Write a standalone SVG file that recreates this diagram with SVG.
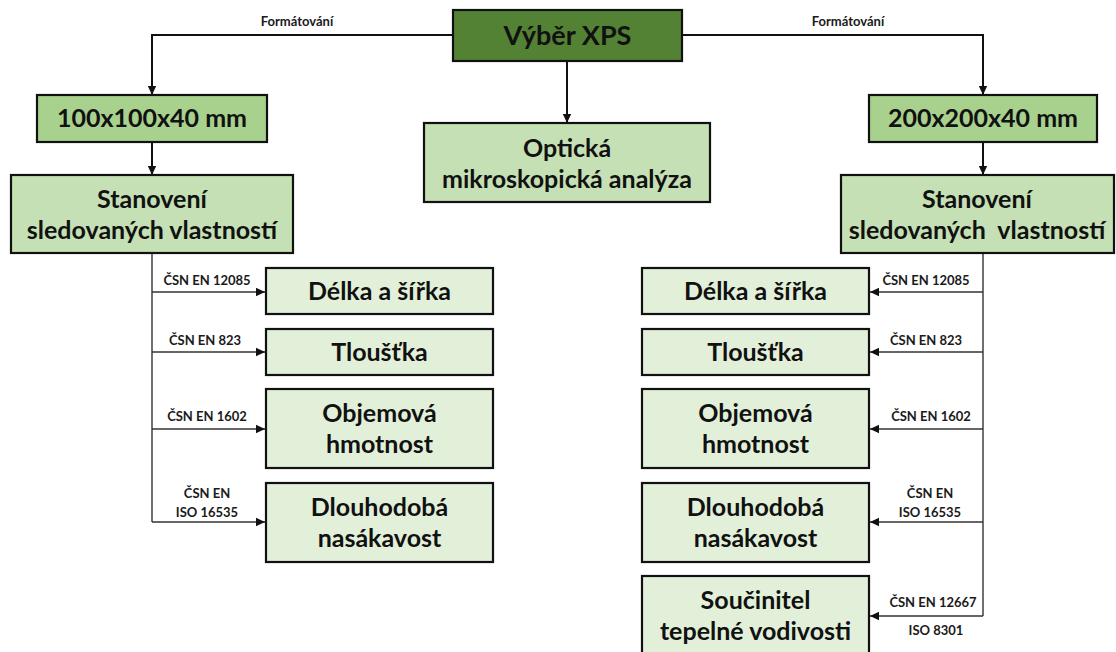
<svg xmlns="http://www.w3.org/2000/svg" width="1116" height="652" viewBox="0 0 1116 652">
<defs>
<style>
.box{stroke:#111;stroke-width:2.2}
.d{fill:#548235}
.m{fill:#A9D18E}
.l{fill:#C5E0B4}
.x{fill:#E2F0D9}
.t{font-family:Lato,"Liberation Sans",sans-serif;font-weight:bold;font-size:25px;fill:#111;text-anchor:middle}
.big{font-size:27px}
.s{font-family:Lato,"Liberation Sans",sans-serif;font-weight:bold;font-size:13px;fill:#1a1a1a;text-anchor:middle}
.c1{fill:none;stroke:#111;stroke-width:2}
.c2{fill:none;stroke:#333;stroke-width:1.4}
</style>
<marker id="ah" markerWidth="10" markerHeight="10" refX="9" refY="5" orient="auto" markerUnits="userSpaceOnUse">
<path d="M0,0.8 L9,5 L0,9.2 Z" fill="#111"/>
</marker>
</defs>

<g id="connectors">
<path class="c1" d="M453,35 H152 V95" marker-end="url(#ah)"/>
<path class="c1" d="M682,35 H983 V95" marker-end="url(#ah)"/>
<path class="c1" d="M567,61 V123" marker-end="url(#ah)"/>
<path class="c1" d="M152,142 V175" marker-end="url(#ah)"/>
<path class="c1" d="M983,142 V175" marker-end="url(#ah)"/>
<path class="c2" d="M152,253 V522"/>
<path class="c2" d="M152,292 H265" marker-end="url(#ah)"/>
<path class="c2" d="M152,352 H265" marker-end="url(#ah)"/>
<path class="c2" d="M152,429 H265" marker-end="url(#ah)"/>
<path class="c2" d="M152,522 H265" marker-end="url(#ah)"/>
<path class="c2" d="M983,253 V616"/>
<path class="c2" d="M983,292 H870" marker-end="url(#ah)"/>
<path class="c2" d="M983,352 H870" marker-end="url(#ah)"/>
<path class="c2" d="M983,429 H870" marker-end="url(#ah)"/>
<path class="c2" d="M983,522 H870" marker-end="url(#ah)"/>
<path class="c2" d="M983,616 H870" marker-end="url(#ah)"/>
<text class="s" x="297" y="26">Formátování</text>
<text class="s" x="848" y="26">Formátování</text>
<text class="s" x="207" y="285">ČSN EN 12085</text>
<text class="s" x="205" y="345">ČSN EN 823</text>
<text class="s" x="207" y="421">ČSN EN 1602</text>
<text class="s" x="207" y="498">ČSN EN</text>
<text class="s" x="207" y="517">ISO 16535</text>
<text class="s" x="926" y="285">ČSN EN 12085</text>
<text class="s" x="926" y="345">ČSN EN 823</text>
<text class="s" x="931" y="421">ČSN EN 1602</text>
<text class="s" x="930" y="498">ČSN EN</text>
<text class="s" x="930" y="517">ISO 16535</text>
<text class="s" x="933" y="607">ČSN EN 12667</text>
<text class="s" x="936" y="635">ISO 8301</text>
</g>

<g id="vyber">
<rect class="box d" x="453" y="10" width="229" height="51"/>
<text class="t big" x="567.5" y="45">Výběr XPS</text>
</g>
<g id="optika">
<rect class="box l" x="424" y="123" width="286" height="79"/>
<text class="t" x="567" y="157">Optická</text>
<text class="t" x="567" y="188">mikroskopická analýza</text>
</g>
<g id="size100">
<rect class="box m" x="37" y="95" width="230" height="47"/>
<text class="t" x="152" y="127">100x100x40 mm</text>
</g>
<g id="size200">
<rect class="box m" x="869" y="95" width="228" height="47"/>
<text class="t" x="983" y="127">200x200x40 mm</text>
</g>
<g id="stanoveni-l">
<rect class="box l" x="11" y="175" width="282" height="78"/>
<text class="t" x="152" y="208">Stanovení</text>
<text class="t" x="152" y="239">sledovaných vlastností</text>
</g>
<g id="stanoveni-r">
<rect class="box l" x="841" y="175" width="273" height="78"/>
<text class="t" x="977" y="208">Stanovení</text>
<text class="t" x="977" y="239" xml:space="preserve">sledovaných  vlastností</text>
</g>

<g id="l-delka">
<rect class="box x" x="266" y="268" width="227" height="46"/>
<text class="t" x="379.5" y="300">Délka a šířka</text>
</g>
<g id="l-tloustka">
<rect class="box x" x="266" y="329" width="227" height="46"/>
<text class="t" x="379.5" y="361">Tloušťka</text>
</g>
<g id="l-objem">
<rect class="box x" x="266" y="389" width="227" height="79"/>
<text class="t" x="379.5" y="422">Objemová</text>
<text class="t" x="379.5" y="453">hmotnost</text>
</g>
<g id="l-nasak">
<rect class="box x" x="266" y="483" width="227" height="79"/>
<text class="t" x="379.5" y="516">Dlouhodobá</text>
<text class="t" x="379.5" y="547">nasákavost</text>
</g>

<g id="r-delka">
<rect class="box x" x="642" y="268" width="227" height="46"/>
<text class="t" x="755.5" y="300">Délka a šířka</text>
</g>
<g id="r-tloustka">
<rect class="box x" x="642" y="329" width="227" height="46"/>
<text class="t" x="755.5" y="361">Tloušťka</text>
</g>
<g id="r-objem">
<rect class="box x" x="642" y="389" width="227" height="79"/>
<text class="t" x="755.5" y="422">Objemová</text>
<text class="t" x="755.5" y="453">hmotnost</text>
</g>
<g id="r-nasak">
<rect class="box x" x="642" y="483" width="227" height="79"/>
<text class="t" x="755.5" y="516">Dlouhodobá</text>
<text class="t" x="755.5" y="547">nasákavost</text>
</g>
<g id="r-soucinitel">
<rect class="box x" x="642" y="576" width="227" height="80"/>
<text class="t" x="755.5" y="609">Součinitel</text>
<text class="t" x="755.5" y="640">tepelné vodivosti</text>
</g>
</svg>
